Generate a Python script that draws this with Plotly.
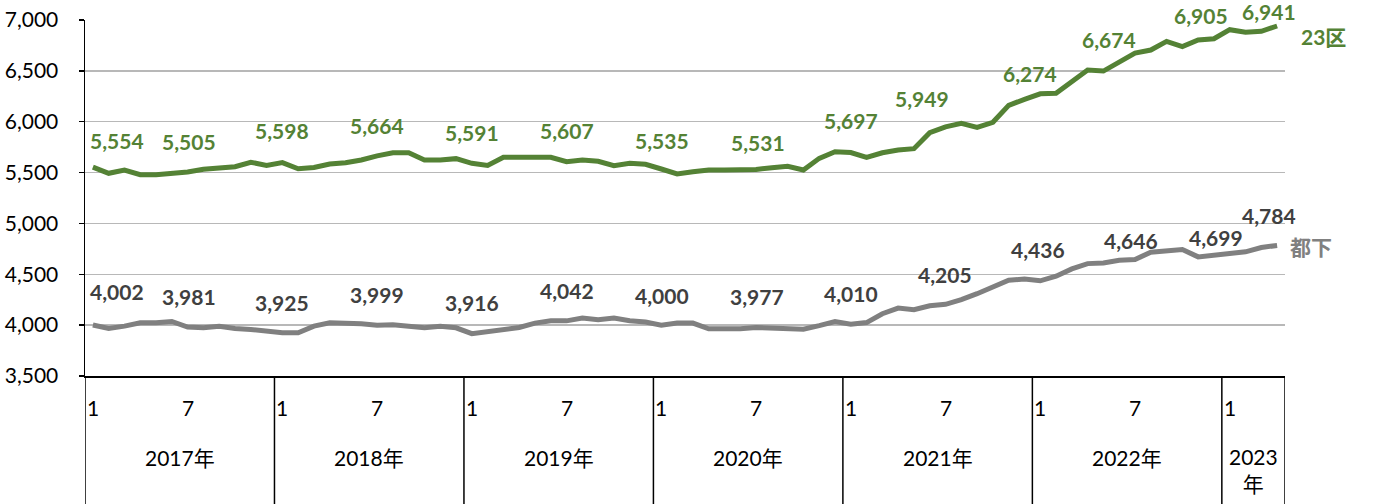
import plotly.graph_objects as go

# ---- data ----
years = [2017, 2018, 2019, 2020, 2021, 2022, 2023]
months_per_year = [12, 12, 12, 12, 12, 12, 4]
categories = [(y, m) for y, n in zip(years, months_per_year) for m in range(1, n + 1)]

ku23 = [
    5554, 5493, 5525, 5479, 5479, 5490, 5505, 5532, 5545, 5558, 5601, 5571,
    5598, 5538, 5550, 5584, 5597, 5624, 5664, 5695, 5695, 5624, 5624, 5637,
    5591, 5570, 5650, 5650, 5650, 5650, 5607, 5624, 5611, 5568, 5591, 5581,
    5535, 5486, 5509, 5525, 5525, 5525, 5531, 5548, 5561, 5525, 5640, 5705,
    5697, 5650, 5695, 5722, 5735, 5892, 5949, 5984, 5945, 5994, 6161, 6220,
    6274, 6279, 6400, 6508, 6498, 6587, 6674, 6705, 6790, 6738, 6803, 6816,
    6905, 6879, 6889, 6941,
]
tokka = [
    4002, 3967, 3990, 4023, 4023, 4036, 3981, 3974, 3990, 3967, 3957, 3938,
    3925, 3925, 3990, 4023, 4023, 4013, 3999, 4003, 3990, 3974, 3990, 3974,
    3916, 3938, 3964, 3977, 4020, 4043, 4042, 4069, 4052, 4069, 4043, 4030,
    4000, 4020, 4020, 3964, 3964, 3964, 3977, 3970, 3975, 3960, 3995, 4035,
    4010, 4025, 4112, 4168, 4151, 4191, 4205, 4250, 4309, 4372, 4441, 4454,
    4436, 4481, 4553, 4605, 4612, 4638, 4646, 4717, 4730, 4743, 4671, 4684,
    4699, 4721, 4763, 4784,
]
label_idx = [0, 6, 12, 18, 24, 30, 36, 42, 48, 54, 60, 66, 72, 75]
series_names = ["23区", "都下"]
month_tick_labels = [1, 7]

# ---- style ----
GREEN = "#548235"
GRAY = "#808080"
LABEL_GRAY = "#404040"
FONT = "Lato, 'Noto Sans CJK JP', sans-serif"
FS = 21

# label offsets in pixels (dx, dy; dy negative = up)
green_off = [(24, -27), (1, -31), (0, -32), (0, -30), (0, -31), (0, -31), (1, -29),
             (2, -27), (0, -32), (-24, -28), (-10, -20), (-26, -14), (-29, -14), (-8, -15)]
gray_off = [(24, -33), (1, -31), (0, -30), (0, -31), (0, -31), (0, -30), (1, -30),
            (1, -31), (0, -31), (-1, -30), (-2, -31), (-4, -19), (-14, -17), (-8, -30)]

x = list(range(len(categories)))

fig = go.Figure()
fig.add_trace(go.Scatter(x=x, y=ku23, mode="lines", line=dict(color=GREEN, width=5),
                         name=series_names[0], hoverinfo="skip", cliponaxis=False))
fig.add_trace(go.Scatter(x=x, y=tokka, mode="lines", line=dict(color=GRAY, width=5),
                         name=series_names[1], hoverinfo="skip", cliponaxis=False))

ann = []
for (i, (dx, dy)) in zip(label_idx, green_off):
    ann.append(dict(x=x[i], y=ku23[i], xref="x", yref="y", text=f"{ku23[i]:,}",
                    showarrow=False, xshift=dx, yshift=-dy, xanchor="center", yanchor="middle",
                    font=dict(family=FONT, size=FS, color=GREEN, weight="bold")))
for (i, (dx, dy)) in zip(label_idx, gray_off):
    ann.append(dict(x=x[i], y=tokka[i], xref="x", yref="y", text=f"{tokka[i]:,}",
                    showarrow=False, xshift=dx, yshift=-dy, xanchor="center", yanchor="middle",
                    font=dict(family=FONT, size=FS, color=LABEL_GRAY, weight="bold")))

# series name labels at end of lines
ann.append(dict(x=x[-1], y=ku23[-1], xref="x", yref="y", text=series_names[0],
                showarrow=False, xshift=46, yshift=-10, xanchor="center", yanchor="middle",
                font=dict(family=FONT, size=FS, color=GREEN, weight="bold")))
ann.append(dict(x=x[-1], y=tokka[-1], xref="x", yref="y", text=series_names[1],
                showarrow=False, xshift=34, yshift=-1, xanchor="center", yanchor="middle",
                font=dict(family=FONT, size=FS, color=GRAY, weight="bold")))

# month tick labels
for i, (yy, mm) in enumerate(categories):
    if mm in month_tick_labels:
        ann.append(dict(x=i, y=0, xref="x", yref="paper", text=str(mm), showarrow=False,
                        yshift=-31, xanchor="center", yanchor="middle",
                        font=dict(family=FONT, size=FS, color="#000000")))

# year labels and separators
shapes = []
start = 0
for yy, n in zip(years, months_per_year):
    mid = start + (n - 1) / 2
    txt = f"{yy}年" if n >= 6 else f"{yy}<br>年"
    ann.append(dict(x=mid, y=0, xref="x", yref="paper", text=txt, showarrow=False,
                    yshift=-81 if n >= 6 else -94, xanchor="center", yanchor="middle",
                    font=dict(family=FONT, size=FS, color="#000000")))
    shapes.append(dict(type="line", xref="x", yref="paper", x0=start - 0.5, x1=start - 0.5,
                       y0=0, y1=-0.4, line=dict(color="#000000", width=1.5)))
    start += n
shapes.append(dict(type="line", xref="x", yref="paper", x0=start - 0.5, x1=start - 0.5,
                   y0=0, y1=-0.4, line=dict(color="#000000", width=1.5)))

fig.update_layout(
    width=1375, height=504,
    margin=dict(l=85, r=90, t=20, b=128, autoexpand=False),
    paper_bgcolor="white", plot_bgcolor="white",
    showlegend=False,
    annotations=ann, shapes=shapes,
    font=dict(family=FONT, size=FS, color="#000000"),
)
fig.update_xaxes(range=[-0.5, len(categories) - 0.5], showgrid=False, zeroline=False,
                 showticklabels=False, showline=True, linecolor="#000000", linewidth=1.5,
                 ticks="", automargin=False)
fig.update_yaxes(range=[3500, 7000], dtick=500, tickformat=",", showgrid=True,
                 gridcolor="#B8B8B8", gridwidth=1.5, zeroline=False, showline=True,
                 linecolor="#000000", linewidth=1.5, ticks="outside", ticklen=5,
                 tickcolor="#000000", tickwidth=1.5, ticklabelstandoff=16,
                 automargin=False, ticklabeloverflow="allow",
                 tickfont=dict(family=FONT, size=FS, color="#000000"))

fig.write_html("out.html", config={"displayModeBar": False, "staticPlot": True},
               post_script="document.body.style.margin='0px';document.body.style.overflow='hidden';")
